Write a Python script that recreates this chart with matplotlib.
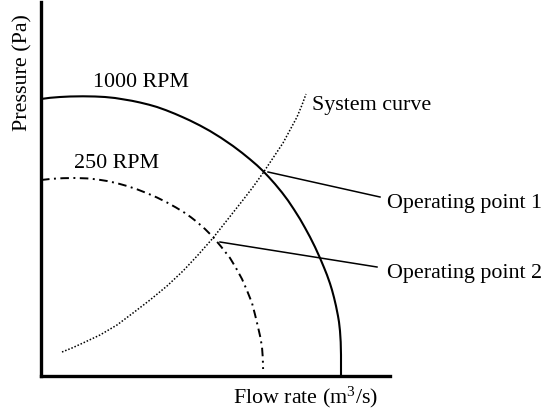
import matplotlib
matplotlib.use("Agg")
import matplotlib.pyplot as plt

plt.rcParams['font.family'] = ['Liberation Serif', 'DejaVu Serif']
plt.rcParams['mathtext.fontset'] = 'custom'
plt.rcParams['mathtext.rm'] = 'Liberation Serif'
plt.rcParams['mathtext.default'] = 'regular'

# Fan curve at 1000 RPM (flow, pressure) in arbitrary units
rpm1000_flow = [0, 0.9, 1.9, 2.9, 4.2, 5.4, 6.4, 7.4, 8.2, 9.1, 9.9, 10.8, 11.6, 12.5, 13.4,
                14.2, 14.9, 15.9, 16.9, 18.0, 19.2, 20.1, 20.9, 21.6, 22.2, 22.8, 23.4, 24.1,
                24.7, 25.3, 25.9, 26.4, 26.9, 27.4, 27.9, 28.3, 28.6, 28.9, 29.1, 29.3, 29.5,
                29.7, 29.8, 29.9, 29.97, 30.0, 30.0]
rpm1000_pres = [27.7, 27.82, 27.9, 27.95, 27.97, 27.95, 27.9, 27.8, 27.67, 27.52, 27.35, 27.13,
                26.9, 26.58, 26.22, 25.87, 25.55, 25.05, 24.5, 23.82, 23.0, 22.32, 21.67, 21.07,
                20.5, 19.87, 19.2, 18.35, 17.55, 16.65, 15.7, 14.82, 13.9, 12.9, 11.8, 10.85,
                10.1, 9.25, 8.6, 7.85, 7.0, 6.0, 5.4, 4.5, 3.4, 2.1, 0.0]

# Fan curve at 250 RPM
rpm250_flow = [0, 1.1, 2.2, 3.4, 4.6, 5.6, 6.6, 7.6, 8.6, 9.6, 10.6, 11.6, 12.6, 13.5, 14.4,
               15.0, 15.6, 16.4, 17.2, 18.0, 18.9, 19.5, 20.1, 20.6, 21.1, 21.4, 21.7, 21.93,
               22.1, 22.18, 22.21]
rpm250_pres = [19.6, 19.72, 19.78, 19.8, 19.76, 19.66, 19.5, 19.28, 19.0, 18.67, 18.28, 17.85,
               17.35, 16.85, 16.3, 15.87, 15.4, 14.7, 13.9, 12.95, 11.8, 10.8, 9.7, 8.55, 7.3,
               6.15, 4.9, 3.9, 2.9, 1.8, 0.7]

# System curve
sys_flow = [2.1, 3.1, 4.2, 5.9, 7.6, 9.2, 10.9, 12.6, 14.2, 15.7, 17.2, 18.7, 20.2, 21.2,
            22.2, 23.2, 24.2, 24.9, 25.6, 26.1, 26.5]
sys_pres = [2.4, 2.8, 3.3, 4.1, 5.1, 6.3, 7.6, 9.0, 10.5, 12.1, 13.8, 15.7, 17.6, 18.9,
            20.3, 21.8, 23.3, 24.6, 25.9, 27.1, 28.2]

# Annotation leader lines (start near operating point, end near label)
op_labels = ['Operating point 1', 'Operating point 2']
op_line_flow = [[22.7, 33.9], [17.9, 33.6]]
op_line_pres = [[20.4, 17.9], [13.4, 10.9]]
op_text_pos = [(34.6, 16.8), (34.6, 9.8)]

curve_labels = ['1000 RPM', '250 RPM', 'System curve']
curve_label_pos = [(5.2, 28.9), (3.3, 20.8), (27.1, 26.6)]

W, H = 544, 412
fig = plt.figure(figsize=(W / 100, H / 100), dpi=100)
ax = fig.add_axes([41 / W, 36 / H, 349 / W, 374 / H])
ax.set_xlim(0, 34.9)
ax.set_ylim(0, 37.4)

ax.plot(rpm1000_flow, rpm1000_pres, color='black', lw=1.5, solid_capstyle='butt')
ax.plot(rpm250_flow, rpm250_pres, color='black', lw=1.4, ls=(0, (4.4, 2.3, 1.0, 2.3)))
ax.plot(sys_flow, sys_pres, color='black', lw=1.1, ls=(0, (1, 1.2)))

for fx, py in zip(op_line_flow, op_line_pres):
    ax.plot(fx, py, color='black', lw=1.1, clip_on=False)

fs = 15.8
for lab, (x, y) in zip(op_labels, op_text_pos):
    ax.text(x, y, lab, fontsize=fs, ha='left', va='baseline', clip_on=False)
for lab, (x, y) in zip(curve_labels, curve_label_pos):
    ax.text(x, y, lab, fontsize=fs, ha='left', va='baseline')

ax.text(0.758, -0.072, 'Flow rate (m$^3$/s)', transform=ax.transAxes,
        fontsize=fs, ha='center', va='baseline')
ax.text(-0.053, 0.81, 'Pressure (Pa)', transform=ax.transAxes, rotation=90,
        fontsize=fs, ha='center', va='center')

for s in ['top', 'right']:
    ax.spines[s].set_visible(False)
for s in ['left', 'bottom']:
    ax.spines[s].set_linewidth(2.4)
ax.set_xticks([])
ax.set_yticks([])

fig.savefig('out.png', dpi=100)
